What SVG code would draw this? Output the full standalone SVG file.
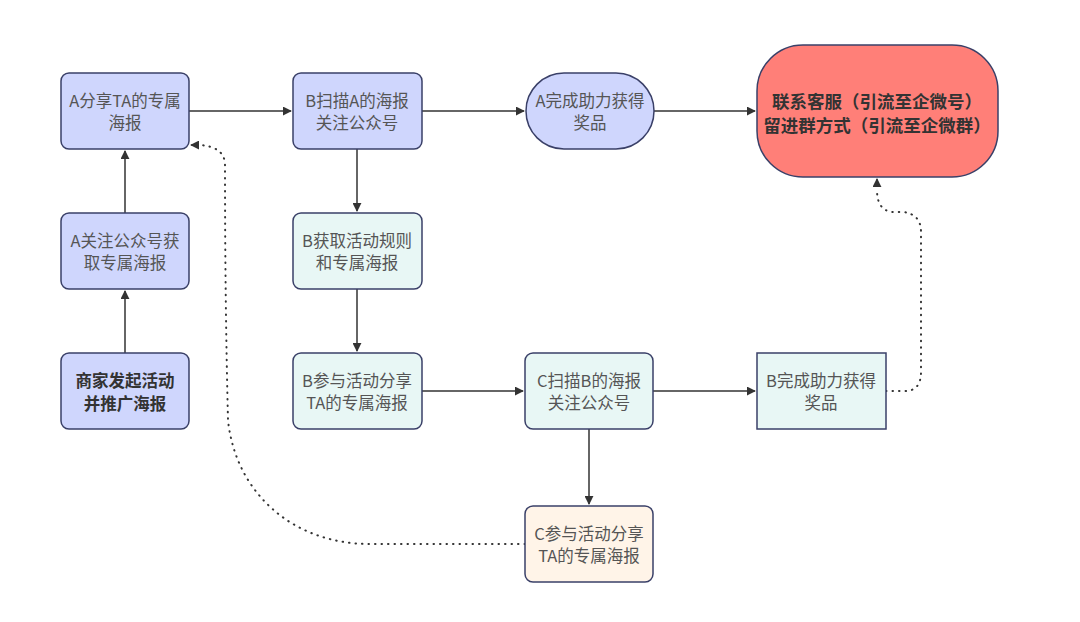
<svg xmlns="http://www.w3.org/2000/svg" width="1080" height="622" viewBox="0 0 1080 622">
<style>
.n{stroke:#3a4068;stroke-width:1.5}
.blue{fill:#cfd6fd}
.green{fill:#e8f7f5}
.peach{fill:#fff4e8}
.red{fill:#ff7f78}
text{font-family:"Noto Sans CJK SC","Noto Sans",sans-serif;font-size:16.5px;text-anchor:middle;fill:#555}
.b{font-weight:bold;fill:#333}
.rt{font-size:17.5px}
.e{fill:none;stroke:#333;stroke-width:1.5}
.d{fill:none;stroke:#333;stroke-width:2;stroke-dasharray:0.5 6;stroke-linecap:round}
</style>
<defs>
<marker id="ah" viewBox="0 0 10 10" refX="9" refY="5" markerWidth="9" markerHeight="9" markerUnits="userSpaceOnUse" orient="auto-start-reverse">
<path d="M0,0 L10,5 L0,10 z" fill="#333"/>
</marker>
<marker id="ah2" viewBox="0 0 10 10" refX="9" refY="5" markerWidth="9" markerHeight="9" markerUnits="userSpaceOnUse" orient="auto">
<path d="M0,0 L10,5 L0,10 z" fill="#333"/>
</marker>
</defs>
<rect width="1080" height="622" fill="#fff"/>
<g id="connectors">
<path class="e" d="M125,353 L125,291" marker-end="url(#ah)"/>
<path class="e" d="M125,213 L125,151" marker-end="url(#ah)"/>
<path class="e" d="M189,111 L291,111" marker-end="url(#ah)"/>
<path class="e" d="M422,111 L524,111" marker-end="url(#ah)"/>
<path class="e" d="M654,111 L755,111" marker-end="url(#ah)"/>
<path class="e" d="M357,149 L357,211" marker-end="url(#ah)"/>
<path class="e" d="M357,289 L357,351" marker-end="url(#ah)"/>
<path class="e" d="M422,391 L523,391" marker-end="url(#ah)"/>
<path class="e" d="M653,391 L755,391" marker-end="url(#ah)"/>
<path class="e" d="M589,429 L589,504" marker-end="url(#ah)"/>
<path class="d" d="M886,391 L905,391 Q921,391 921,372 L921,232 Q921,214 903,212 L892,212 Q877,210 877,190"/>
<path class="e" d="M877,186 L877,179" marker-end="url(#ah2)" stroke-width="0"/>
<path class="d" d="M525,544 L370,544 C290,544 235,490 228,420 Q225,300 225,165 Q225,147 200,145"/>
<path class="e" d="M197,145 L191,145" marker-end="url(#ah2)" stroke-width="0"/>
</g>
<g id="n_merchant">
<rect class="n blue" x="61" y="353" width="128" height="76" rx="8"/>
<text class="b" x="125" y="387">商家发起活动</text>
<text class="b" x="125" y="410">并推广海报</text>
</g>
<g id="n_a_follow">
<rect class="n blue" x="61" y="213" width="128" height="76" rx="8"/>
<text x="125" y="247">A关注公众号获</text>
<text x="125" y="269">取专属海报</text>
</g>
<g id="n_a_share">
<rect class="n blue" x="61" y="73" width="128" height="76" rx="8"/>
<text x="125" y="107">A分享TA的专属</text>
<text x="125" y="129">海报</text>
</g>
<g id="n_b_scan">
<rect class="n blue" x="293" y="73" width="129" height="76" rx="8"/>
<text x="357" y="107">B扫描A的海报</text>
<text x="357" y="129">关注公众号</text>
</g>
<g id="n_a_done">
<rect class="n blue" x="526" y="73" width="128" height="76" rx="38"/>
<text x="590" y="107">A完成助力获得</text>
<text x="590" y="129">奖品</text>
</g>
<g id="n_contact">
<rect class="n red" x="757" y="45" width="241" height="132" rx="46"/>
<text class="b rt" x="877" y="108">联系客服（引流至企微号）</text>
<text class="b rt" x="877" y="132">留进群方式（引流至企微群）</text>
</g>
<g id="n_b_get">
<rect class="n green" x="293" y="213" width="129" height="76" rx="8"/>
<text x="357" y="247">B获取活动规则</text>
<text x="357" y="269">和专属海报</text>
</g>
<g id="n_b_join">
<rect class="n green" x="293" y="353" width="129" height="76" rx="8"/>
<text x="357" y="387">B参与活动分享</text>
<text x="357" y="409">TA的专属海报</text>
</g>
<g id="n_c_scan">
<rect class="n green" x="525" y="353" width="128" height="76" rx="8"/>
<text x="589" y="387">C扫描B的海报</text>
<text x="589" y="409">关注公众号</text>
</g>
<g id="n_b_done">
<rect class="n green" x="757" y="353" width="129" height="76"/>
<text x="821" y="387">B完成助力获得</text>
<text x="821" y="409">奖品</text>
</g>
<g id="n_c_join">
<rect class="n peach" x="525" y="506" width="128" height="76" rx="8"/>
<text x="589" y="540">C参与活动分享</text>
<text x="589" y="562">TA的专属海报</text>
</g>
</svg>
